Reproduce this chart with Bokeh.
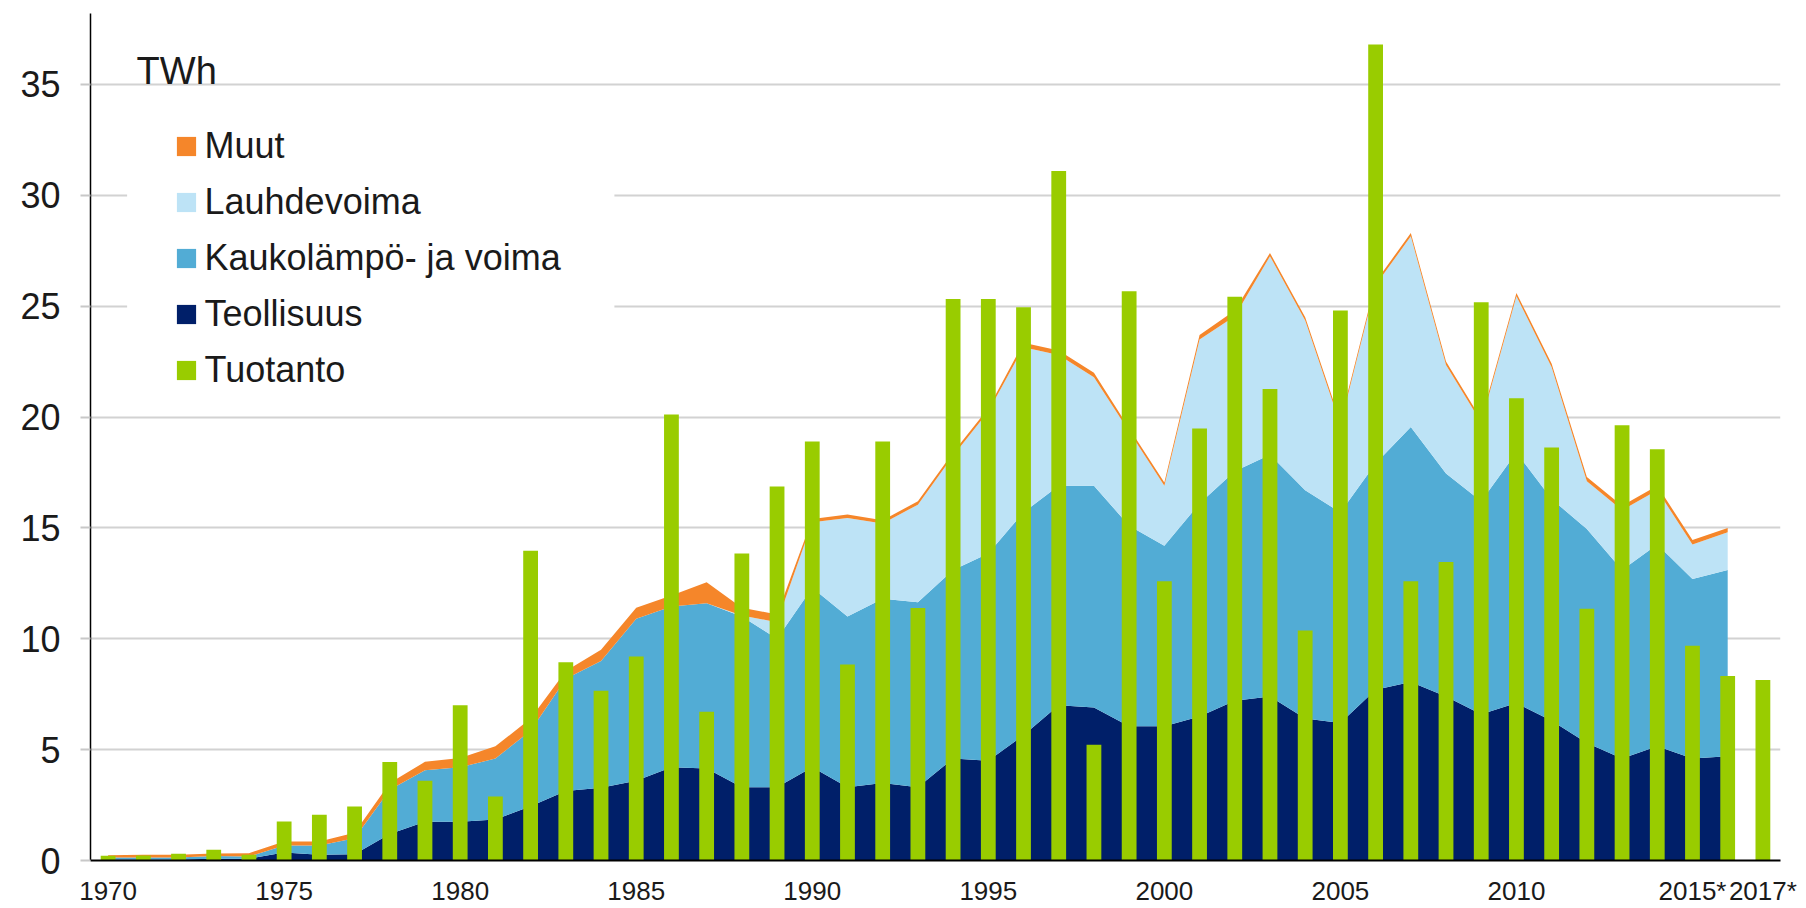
from bokeh.plotting import figure
from bokeh.models import (Range1d, FixedTicker, Legend, LegendItem, Label,
                          ColumnDataSource, BoxAnnotation)
from bokeh.embed import file_html
from bokeh.resources import INLINE

# ---------------- data (TWh) ----------------
area_years = list(range(1970, 2017))
bar_years = list(range(1970, 2018))

teollisuus = [0.05, 0.05, 0.05, 0.08, 0.08, 0.36, 0.26, 0.28, 1.2, 1.75,
              1.75, 1.85, 2.45, 3.13, 3.28, 3.6, 4.2, 4.15, 3.3, 3.3,
              4.2, 3.3, 3.5, 3.3, 4.6, 4.5, 5.65, 7.0, 6.9, 6.05,
              6.05, 6.5, 7.2, 7.4, 6.4, 6.2, 7.7, 8.05, 7.4, 6.6,
              7.1, 6.3, 5.3, 4.6, 5.15, 4.6, 4.7]
kaukolampo = [0.08, 0.08, 0.08, 0.12, 0.10, 0.32, 0.42, 0.72, 1.99, 2.32,
              2.45, 2.75, 3.4, 5.07, 5.72, 7.3, 7.25, 7.45, 7.7, 6.7,
              8.1, 7.7, 8.3, 8.35, 8.5, 9.35, 10.05, 9.9, 10.0, 9.05,
              8.15, 9.6, 10.35, 10.9, 10.3, 9.5, 10.2, 11.5, 10.05, 9.6,
              11.3, 10.0, 9.65, 8.5, 9.1, 8.1, 8.4]
lauhdevoima = [0, 0, 0, 0, 0, 0, 0, 0, 0, 0,
               0, 0, 0, 0, 0, 0, 0, 0, 0.05, 0.75,
               2.95, 4.45, 3.4, 4.4, 5.15, 6.4, 7.45, 5.9, 4.9, 4.25,
               2.7, 7.4, 7.0, 8.95, 7.65, 3.95, 8.05, 8.6, 4.9, 3.55,
               7.05, 5.95, 2.15, 2.7, 2.45, 1.55, 1.7]
muut = [0.11, 0.13, 0.13, 0.12, 0.15, 0.18, 0.18, 0.25, 0.31, 0.38,
        0.42, 0.55, 0.55, 0.35, 0.5, 0.5, 0.5, 0.95, 0.35, 0.35,
        0.15, 0.15, 0.15, 0.15, 0.15, 0.15, 0.2, 0.2, 0.2, 0.15,
        0.15, 0.2, 0.25, 0.15, 0.15, 0.15, 0.15, 0.15, 0.15, 0.15,
        0.15, 0.15, 0.2, 0.2, 0.2, 0.2, 0.2]
tuotanto = [0.21, 0.23, 0.3, 0.48, 0.26, 1.76, 2.06, 2.44, 4.44, 3.6,
            7.0, 2.89, 13.97, 8.94, 7.66, 9.2, 20.12, 6.71, 13.85, 16.87,
            18.9, 8.84, 18.9, 11.39, 25.32, 25.32, 24.95, 31.1, 5.22, 25.67,
            12.59, 19.48, 25.42, 21.26, 10.37, 24.8, 36.8, 12.59, 13.46, 25.18,
            20.85, 18.63, 11.35, 19.63, 18.55, 9.69, 8.32, 8.14]

x_ticks = [1970, 1975, 1980, 1985, 1990, 1995, 2000, 2005, 2010, 2015, 2017]
x_tick_labels = {2015: "2015*", 2017: "2017*"}
y_ticks = [0, 5, 10, 15, 20, 25, 30, 35]

series_names = ["Teollisuus", "Kaukolämpö- ja voima", "Lauhdevoima", "Muut"]
bar_name = "Tuotanto"
unit_label = "TWh"

C_NAVY = "#001f69"
C_MID = "#52acd5"
C_LIGHT = "#bde3f6"
C_ORANGE = "#f5862a"
C_GREEN = "#99cc00"
FONT = "Liberation Sans"
TXT = "#1a1a1a"

# ---------------- figure ----------------
p = figure(frame_width=1690, frame_height=847,
           output_backend="svg", toolbar_location=None,
           x_range=Range1d(1969.5, 2017.5), y_range=Range1d(0, 38.2),
           min_border_left=90, min_border_right=20, min_border_top=13,
           min_border_bottom=46)
p.outline_line_color = None
p.background_fill_color = "white"
p.border_fill_color = "white"

src = ColumnDataSource(dict(year=area_years, t=teollisuus, k=kaukolampo,
                            l=lauhdevoima, m=muut))
areas = p.varea_stack(stackers=["t", "k", "l", "m"], x="year",
                      color=[C_NAVY, C_MID, C_LIGHT, C_ORANGE], source=src)

bsrc = ColumnDataSource(dict(year=bar_years, v=tuotanto))
bars = p.vbar(x="year", top="v", width=0.42, source=bsrc,
              fill_color=C_GREEN, line_color=None)

# axes
p.xgrid.grid_line_color = None
p.ygrid.grid_line_color = "#d2d2d2"
p.ygrid.grid_line_width = 2
p.ygrid.ticker = FixedTicker(ticks=y_ticks)

p.yaxis.ticker = FixedTicker(ticks=y_ticks)
p.yaxis.axis_line_color = "black"
p.yaxis.axis_line_width = 1.5
p.yaxis.major_tick_out = 10
p.yaxis.major_tick_in = 0
p.yaxis.major_tick_line_color = "#c8c8c8"
p.yaxis.major_tick_line_width = 2
p.yaxis.minor_tick_line_color = None
p.yaxis.major_label_standoff = 20
p.yaxis.major_label_text_font = FONT
p.yaxis.major_label_text_font_size = "36px"
p.yaxis.major_label_text_color = TXT

overrides = {}
for k, v in x_tick_labels.items():
    overrides[k] = v
    overrides[str(k)] = v
p.xaxis.ticker = FixedTicker(ticks=x_ticks)
p.xaxis.major_label_overrides = overrides
p.xaxis.axis_line_color = "black"
p.xaxis.axis_line_width = 2
p.xaxis.major_tick_out = 0
p.xaxis.major_tick_in = 0
p.xaxis.minor_tick_line_color = None
p.xaxis.major_label_standoff = 15
p.xaxis.major_label_text_font = FONT
p.xaxis.major_label_text_font_size = "26px"
p.xaxis.major_label_text_color = TXT

# white panel behind the legend (breaks the grid lines like the original)
panel = BoxAnnotation(left=1970.54, right=1984.38, bottom=21.5, top=33.0,
                      fill_color="white", fill_alpha=1.0, line_color=None)
p.add_layout(panel)

# legend
items = [LegendItem(label=series_names[3], renderers=[areas[3]]),
         LegendItem(label=series_names[2], renderers=[areas[2]]),
         LegendItem(label=series_names[1], renderers=[areas[1]]),
         LegendItem(label=series_names[0], renderers=[areas[0]]),
         LegendItem(label=bar_name, renderers=[bars])]
legend = Legend(items=items, location=(83.5, 469.5), orientation="vertical",
                glyph_width=24, glyph_height=24, label_standoff=7,
                spacing=14, label_text_font=FONT, label_text_font_size="36px",
                label_text_color=TXT, background_fill_alpha=0.0,
                border_line_color=None, margin=0)
p.add_layout(legend)

unit = Label(x=1970.81, y=35.61, text=unit_label, text_font=FONT,
             text_font_size="38px", text_color=TXT, text_baseline="alphabetic",
             text_align="left")
p.add_layout(unit)

open("out.html", "w").write(file_html(p, INLINE))
